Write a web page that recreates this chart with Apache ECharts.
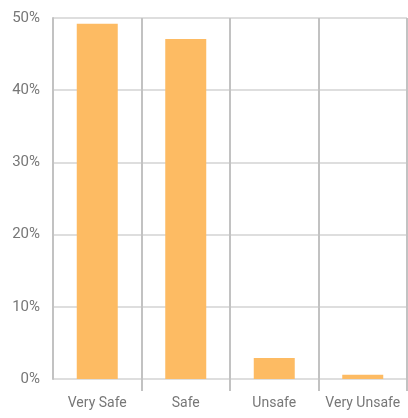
<!DOCTYPE html>
<html>
<head>
<meta charset="utf-8">
<script src="https://cdn.jsdelivr.net/npm/echarts@6/dist/echarts.min.js"></script>
<style>
  html, body { margin: 0; padding: 0; background: #fff; }
  #chart { width: 408px; height: 418px; }
</style>
</head>
<body>
<div id="chart"></div>
<script>
// Perceived safety ratings (share of respondents, %)
const categories = ['Very Safe', 'Safe', 'Unsafe', 'Very Unsafe'];
const shares = [49.2, 47.1, 2.9, 0.6];
const yTicks = [0, 10, 20, 30, 40, 50];

const chart = echarts.init(document.getElementById('chart'));
chart.setOption({
  animation: false,
  grid: { left: 53, right: 1, top: 18, bottom: 39, containLabel: false },
  xAxis: {
    type: 'category',
    data: categories,
    boundaryGap: true,
    axisLine: { show: false },
    axisTick: {
      show: true,
      length: 12,
      interval: (i) => i > 0,
      lineStyle: { color: '#c2c2c2', width: 2 }
    },
    axisLabel: {
      interval: 0,
      color: '#777',
      fontFamily: 'Roboto',
      fontSize: 14,
      margin: 17
    },
    splitLine: { show: true, interval: 0, lineStyle: { color: '#c2c2c2', width: 2 } }
  },
  yAxis: {
    type: 'value',
    min: yTicks[0],
    max: yTicks[yTicks.length - 1],
    interval: 10,
    axisLine: { show: true, lineStyle: { color: '#c2c2c2', width: 2 } },
    axisTick: { show: false },
    axisLabel: {
      color: '#777',
      fontFamily: 'Roboto',
      fontSize: 15,
      margin: 13,
      formatter: '{value}%'
    },
    splitLine: { show: true, lineStyle: { color: '#dedede', width: 2 } }
  },
  series: [{
    type: 'bar',
    data: shares,
    barWidth: 41,
    itemStyle: { color: '#fdbb63' }
  }]
});
</script>
</body>
</html>
